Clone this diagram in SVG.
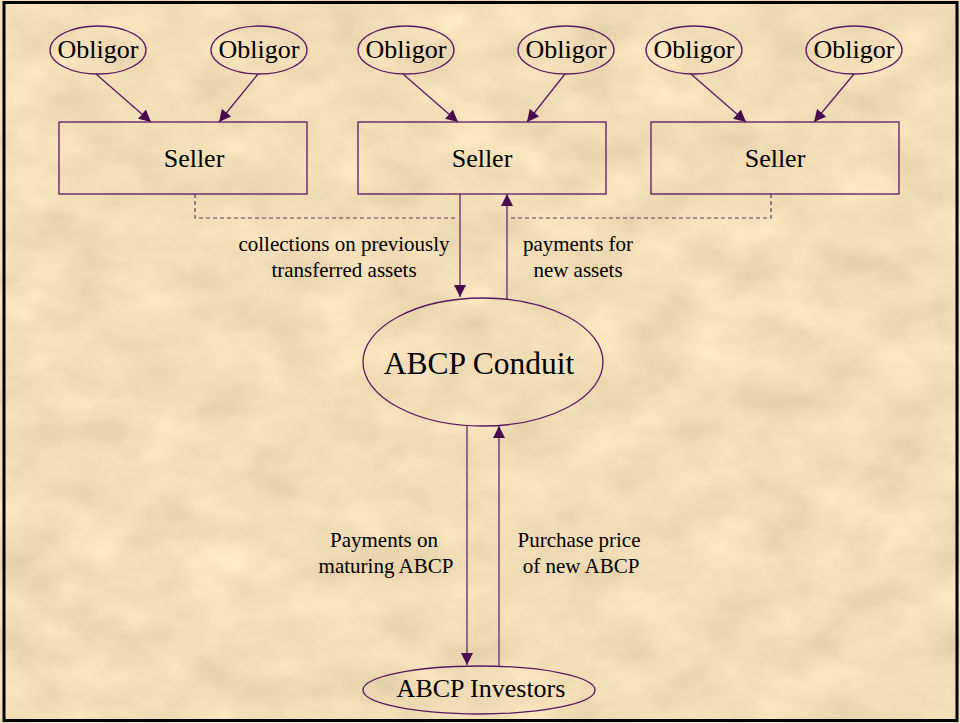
<svg xmlns="http://www.w3.org/2000/svg" width="960" height="723" viewBox="0 0 960 723">
<defs>
<filter id="paper" x="0" y="0" width="960" height="723" filterUnits="userSpaceOnUse" color-interpolation-filters="sRGB">
<feTurbulence type="fractalNoise" baseFrequency="0.016 0.024" numOctaves="4" seed="7"/>
<feColorMatrix type="matrix" values="0.14 0 0 0 0.875  0.14 0 0 0 0.795  0.14 0 0 0 0.645  0 0 0 0 1"/>
</filter>
<marker id="ah" viewBox="0 0 12 12" refX="12" refY="6" markerWidth="12" markerHeight="12" markerUnits="userSpaceOnUse" orient="auto">
<path d="M0,0 L12,6 L0,12 Z" fill="#4a0a50"/>
</marker>
<style>
.node{fill:none;stroke:#5a1a60;stroke-width:1.3}
.t{font-family:'Liberation Serif','Times New Roman',serif;fill:#000;text-anchor:middle}
.big{font-size:26px}
.lab{font-size:21px}
.edge{stroke:#5a1a60;stroke-width:1.3;fill:none;marker-end:url(#ah)}
.vedge{stroke:#7a4a7e;stroke-width:1.6;fill:none;marker-end:url(#ah)}
.dash{stroke:#6a3a6e;stroke-width:1.2;fill:none;stroke-dasharray:4 3}
</style>
</defs>
<rect x="0" y="0" width="960" height="723" fill="#eedcb6"/>
<rect x="0" y="0" width="960" height="723" filter="url(#paper)"/>
<rect x="4" y="2.5" width="953" height="718" fill="none" stroke="#000" stroke-width="3"/>

<g id="connectors">
<line class="edge" x1="96" y1="74" x2="151" y2="122"/>
<line class="edge" x1="258" y1="74" x2="219" y2="122"/>
<line class="edge" x1="403" y1="74" x2="458" y2="122"/>
<line class="edge" x1="565" y1="74" x2="527" y2="122"/>
<line class="edge" x1="691" y1="74" x2="746" y2="122"/>
<line class="edge" x1="854" y1="74" x2="814" y2="122"/>
<polyline class="dash" points="195,194 195,218 457,218"/>
<polyline class="dash" points="511,218 771,218 771,194"/>
<line class="vedge" x1="460" y1="194" x2="460" y2="297"/>
<line class="vedge" x1="507" y1="299" x2="507" y2="194"/>
<line class="vedge" x1="467" y1="426" x2="467" y2="665"/>
<line class="vedge" x1="499" y1="666" x2="499" y2="426"/>
</g>

<g id="labels">
<text class="t lab" x="344" y="251">collections on previously</text>
<text class="t lab" x="344" y="277">transferred assets</text>
<text class="t lab" x="578" y="251">payments for</text>
<text class="t lab" x="578" y="277">new assets</text>
<text class="t lab" x="384" y="547">Payments on</text>
<text class="t lab" x="386" y="573">maturing ABCP</text>
<text class="t lab" x="579" y="547">Purchase price</text>
<text class="t lab" x="581" y="573">of new ABCP</text>
</g>

<g id="obligor1"><ellipse class="node" cx="98" cy="50" rx="48" ry="24"/><text class="t big" x="98" y="58">Obligor</text></g>
<g id="obligor2"><ellipse class="node" cx="259" cy="50" rx="48" ry="24"/><text class="t big" x="259" y="58">Obligor</text></g>
<g id="obligor3"><ellipse class="node" cx="406" cy="50" rx="48" ry="24"/><text class="t big" x="406" y="58">Obligor</text></g>
<g id="obligor4"><ellipse class="node" cx="566" cy="50" rx="48" ry="24"/><text class="t big" x="566" y="58">Obligor</text></g>
<g id="obligor5"><ellipse class="node" cx="694" cy="50" rx="48" ry="24"/><text class="t big" x="694" y="58">Obligor</text></g>
<g id="obligor6"><ellipse class="node" cx="854" cy="50" rx="48" ry="24"/><text class="t big" x="854" y="58">Obligor</text></g>

<g id="seller1"><rect class="node" x="59" y="122" width="248" height="72"/><text class="t big" x="194" y="167">Seller</text></g>
<g id="seller2"><rect class="node" x="358" y="122" width="248" height="72"/><text class="t big" x="482" y="167">Seller</text></g>
<g id="seller3"><rect class="node" x="651" y="122" width="248" height="72"/><text class="t big" x="775" y="167">Seller</text></g>

<g id="conduit"><ellipse class="node" cx="483" cy="362" rx="120" ry="64"/><text class="t" style="font-size:31.5px" x="479" y="374">ABCP Conduit</text></g>
<g id="investors"><ellipse class="node" cx="479" cy="690" rx="116" ry="24"/><text class="t big" x="481" y="697">ABCP Investors</text></g>
</svg>
